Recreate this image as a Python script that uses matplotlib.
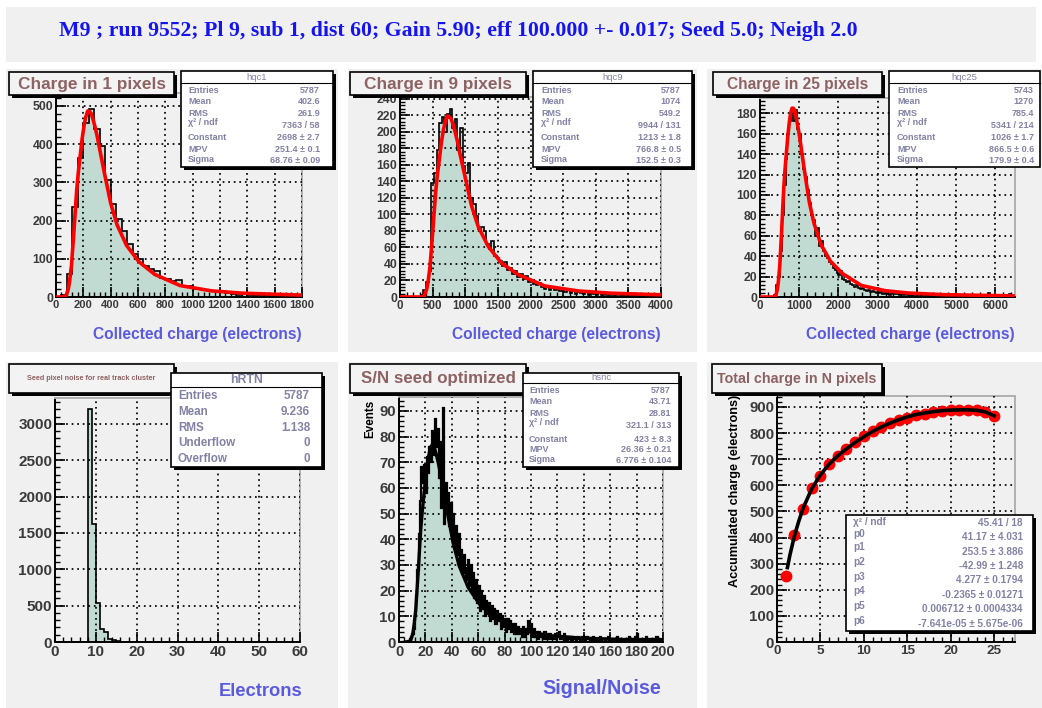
import matplotlib
matplotlib.use('Agg')
import matplotlib.pyplot as plt
from matplotlib.patches import Rectangle
from matplotlib.ticker import MultipleLocator, AutoMinorLocator
import numpy as np

# ---------------- data ----------------
header_text = "M9 ; run 9552; Pl 9, sub 1, dist 60; Gain 5.90; eff 100.000 +- 0.017; Seed 5.0; Neigh 2.0"

# Panel 1: charge in 1 pixel (bin width 40, 0..1800)
h1_range = (0, 1800)
h1_counts = [0, 4, 60, 235, 365, 455, 493, 440, 395, 305,
             244, 205, 172, 140, 112, 100, 80, 72, 68, 50,
             48, 42, 45, 28, 30, 22, 20, 18, 15, 14,
             12, 10, 9, 6, 8, 6, 5, 6, 4, 5,
             4, 3, 4, 3, 3]
f1_x = [0, 50, 72.6, 89.8, 100.1, 113.2, 122.1, 131.1, 141.4, 151.7, 164.1, 177.1, 190.9, 205.3,
        218.4, 232.1, 244.5, 257.6, 272.0, 285.8, 303.0, 320.2, 354.5, 400.6, 446.7, 516.1,
        607.6, 723.1, 907.4, 1138.4, 1365.3, 1702.2, 1800]
f1_y = [0, 0, 3, 20, 43, 82, 127, 171, 227, 281, 329, 370, 413, 449,
        472, 487, 486, 480, 464, 445, 418, 386, 324, 245, 189, 135,
        92, 59, 30, 16, 10, 6, 5]

# Panel 2: charge in 9 pixels (bin width 40, 0..4000)
h2_range = (0, 4000)
h2_counts = [0, 0, 0, 0, 0, 0, 0, 0, 3, 8,
             18, 32, 138, 150, 178, 210, 218, 200, 222, 228,
             205, 215, 178, 205, 158, 150, 162, 120, 113, 98,
             82, 85, 80, 64, 58, 68, 50, 47, 44, 38,
             42, 33, 35, 28, 32, 24, 28, 22, 25, 18,
             20, 16, 14, 17, 12, 10, 13, 9, 11, 8,
             10, 7, 8, 6, 9, 5, 7, 4, 6, 5,
             4, 6, 3, 5, 4, 3, 5, 2, 4, 3,
             4, 2, 3, 4, 2, 3, 2, 4, 2, 3,
             2, 3, 1, 3, 2, 2, 1, 3, 2, 2]
f2_x = [0, 330, 370, 408.4, 431.3, 460.3, 480.1, 499.9, 522.8, 545.7, 573.1, 602.1, 632.6, 664.6,
        693.6, 724.1, 751.6, 780.5, 812.6, 843.1, 881.2, 919.3, 995.5, 1097.7, 1199.9,
        1353.9, 1556.8, 1813.0, 2221.7, 2734, 3237, 3984]
f2_y = [0, 0, 1.2, 9, 19, 37, 57, 77, 102, 126, 148, 166, 186, 202,
        212, 219, 218, 216, 209, 200, 188, 173, 146, 110, 85,
        61, 41, 27, 13.3, 7.3, 4.6, 2.7]

# Panel 3: charge in 25 pixels (bin width 50, 0..6500)
h3_range = (0, 6500)
h3_counts = [0, 0, 0, 0, 0, 0, 0,
             2, 12, 20, 45, 80, 110, 135, 160, 172, 180,
             172, 183, 165, 160, 140, 125, 118, 105, 92, 80,
             75, 60, 68, 50, 55, 45, 40, 38, 34, 32,
             28, 26, 24, 22, 25, 18, 17, 15, 16, 13,
             12, 10, 12, 9, 8, 9, 7, 6, 7, 5,
             6, 5, 4,
             4, 5, 3, 4, 3, 5, 2, 4, 3, 3,
             3, 2, 4, 2, 3, 2, 3, 1, 2, 3,
             2, 2, 1, 3, 2, 1, 2, 2, 1, 2,
             1, 2, 1, 1, 2, 1, 0, 2, 1, 1,
             1, 0, 1, 2, 1, 0, 1, 1, 0, 1,
             0, 1, 1, 0, 1, 0, 4, 1, 0, 1,
             1, 0, 1, 0, 1, 2, 0, 3, 1, 0]
f3_x = [0, 360, 398.8, 443.7, 470.7, 504.9, 528.3, 551.7, 578.7, 605.6, 638.0, 672.2, 708.2, 746.0,
        780.2, 816.1, 848.5, 882.7, 920.5, 956.5, 1001.4, 1046.4, 1136.4, 1256.9, 1377.4,
        1559.1, 1798.4, 2100.6, 2582.7, 3187.2, 3780.9, 4662.4, 6450]
f3_y = [0, 0, 1, 7.6, 16, 31, 48, 65, 86, 107, 125, 141, 157, 171,
        180, 185, 185, 183, 176, 169, 159, 147, 123, 93, 72,
        51, 35, 23, 11.3, 6.2, 3.9, 2.3, 1.1]

# Panel 4: seed pixel noise (bin width 1, 0..60)
h4_range = (0, 60)
h4_counts = [0, 0, 0, 0, 0, 0, 0, 0, 3210, 1625,
             540, 183, 138, 46, 23, 10, 5, 3, 2, 1,
             0, 0, 0, 0, 0, 0, 0, 0, 0, 0,
             0, 0, 0, 0, 0, 0, 0, 0, 0, 0,
             0, 0, 0, 0, 0, 0, 0, 0, 0, 0,
             0, 0, 0, 0, 0, 0, 0, 0, 0, 0]

# Panel 5: S/N (bin width 1, 0..200)
h5_range = (0, 200)
h5_counts = [0, 0, 0, 0, 0, 0, 0, 0, 1, 2,
             3, 5, 10, 18, 28, 42, 55, 68, 62, 69,
             58, 72, 66, 76, 70, 82, 73, 87, 76, 83,
             64, 78, 52, 91, 46, 62, 50, 58, 45, 54,
             42, 50, 37, 45, 34, 42, 30, 36, 27, 34,
             29, 24, 32, 22, 30, 19, 27, 17, 24, 15,
             22, 12, 20, 13, 18, 10, 16, 11, 15, 8,
             14, 9, 13, 7, 12, 8, 11, 5, 10, 6,
             9, 4, 9, 5, 8, 4, 7, 3, 7, 3,
             6, 3, 5, 2, 6, 2, 5, 3, 8, 4,
             7, 2, 5, 2, 4, 1, 4, 2, 3, 1,
             4, 1, 3, 1, 3, 1, 2, 1, 3, 1,
             2, 4, 1, 2, 1, 3, 0, 2, 1, 2,
             0, 2, 1, 1, 0, 2, 1, 1, 0, 2,
             1, 0, 2, 1, 1, 0, 1, 2, 0, 1,
             1, 0, 2, 0, 1, 1, 0, 1, 2, 0,
             1, 0, 1, 1, 0, 2, 0, 1, 0, 1,
             1, 0, 1, 0, 2, 0, 1, 0, 1, 2,
             3, 1, 0, 1, 0, 1, 0, 2, 0, 1,
             0, 1, 0, 1, 0, 2, 1, 0, 1, 0]
f5_x = [5, 8.7, 10.4, 11.45, 12.74, 13.62, 14.5, 15.5, 16.5, 17.75, 19.04, 20.4, 21.82, 23.11,
        24.46, 25.68, 26.97, 28.39, 29.75, 31.44, 33.14, 36.52, 41.06, 45.6, 52.45, 61.46,
        72.84, 91.0, 113.8, 136.1, 169.3, 199]
f5_y = [0, 0.4, 3.1, 6.8, 12.9, 19.9, 26.9, 35.5, 44, 51.6, 58, 64.7, 70.4, 74,
        76.4, 76.1, 75.3, 72.8, 69.8, 65.6, 60.5, 50.8, 38.4, 29.6, 21.2, 14.4,
        9.3, 4.7, 2.5, 1.6, 0.93, 0.7]

# Panel 6: total charge in N pixels
n_pixels = list(range(1, 26))
acc_charge = [251, 411, 508, 590, 637, 680, 714, 740, 766, 788,
              808, 823, 839, 849, 859, 868, 874, 881, 885, 887,
              890, 890, 887, 881, 864]
f6_x = [1.2, 1.5, 2, 2.5, 3, 4, 5, 6, 7, 8, 9, 10, 11, 12, 13, 14, 15, 16, 17, 18, 19, 20,
        21, 22, 23, 24, 25]
f6_y = [285, 335, 405, 462, 512, 587, 640, 681, 713, 740, 764, 786, 806, 823, 838, 851, 862,
        871, 877, 882, 886, 888, 889, 889, 887, 881, 866]

# stats texts
stats1 = [("Entries", "5787"), ("Mean", "402.6"), ("RMS", "261.9"), ("χ² / ndf", "7363 / 58"),
          ("Constant", "2698 ± 2.7"), ("MPV", "251.4 ± 0.1"), ("Sigma", "68.76 ± 0.09")]
stats2 = [("Entries", "5787"), ("Mean", "1074"), ("RMS", "549.2"), ("χ² / ndf", "9944 / 131"),
          ("Constant", "1213 ± 1.8"), ("MPV", "766.8 ± 0.5"), ("Sigma", "152.5 ± 0.3")]
stats3 = [("Entries", "5743"), ("Mean", "1270"), ("RMS", "785.4"), ("χ² / ndf", "5341 / 214"),
          ("Constant", "1026 ± 1.7"), ("MPV", "866.5 ± 0.6"), ("Sigma", "179.9 ± 0.4")]
stats4 = [("Entries", "5787"), ("Mean", "9.236"), ("RMS", "1.138"), ("Underflow", "0"),
          ("Overflow", "0")]
stats5 = [("Entries", "5787"), ("Mean", "43.71"), ("RMS", "28.81"), ("χ² / ndf", "321.1 / 313"),
          ("Constant", "423 ± 8.3"), ("MPV", "26.36 ± 0.21"), ("Sigma", "6.776 ± 0.104")]
stats6 = [("χ² / ndf", "45.41 / 18"), ("p0", "41.17 ± 4.031"), ("p1", "253.5 ± 3.886"),
          ("p2", "-42.99 ± 1.248"), ("p3", "4.277 ± 0.1794"), ("p4", "-0.2365 ± 0.01271"),
          ("p5", "0.006712 ± 0.0004334"), ("p6", "-7.641e-05 ± 5.675e-06")]

# ---------------- style ----------------
W, H = 1042, 708
plt.rcParams['font.family'] = ['Liberation Sans', 'DejaVu Sans']
plt.rcParams['font.weight'] = 'bold'

PAD = '#f0f0f0'
FILL = '#c2dbd2'
TITLE_C = '#8e6262'
AXT_C = '#5a5ae0'
STAT_C = '#8282a6'
TICK_C = '#3a3a3a'

fig = plt.figure(figsize=(W / 100, H / 100), dpi=100)
fig.patch.set_facecolor('white')

bg = fig.add_axes([0, 0, 1, 1], zorder=0)
bg.set_xlim(0, W); bg.set_ylim(H, 0); bg.axis('off')
fg = fig.add_axes([0, 0, 1, 1], zorder=10)
fg.set_xlim(0, W); fg.set_ylim(H, 0); fg.axis('off')

# pads and header
for (x0, y0, x1, y1) in [(6, 7, 1036, 62), (6, 69, 338, 352), (348, 69, 697, 352),
                         (707, 69, 1042, 352), (6, 362, 338, 708), (348, 362, 697, 708),
                         (707, 362, 1042, 708)]:
    bg.add_patch(Rectangle((x0, y0), x1 - x0, y1 - y0, fc=PAD, ec='none'))
bg.text(59, 31, header_text, family=['Liberation Serif', 'DejaVu Serif'], fontsize=15.7,
        color='#1414f0', ha='left', va='center', fontweight='bold')


def px_axes(x0, y0, x1, y1):
    return fig.add_axes([x0 / W, 1 - y1 / H, (x1 - x0) / W, (y1 - y0) / H], zorder=1)


def style(ax, xlim, ylim, xmaj, ymaj, xfs, yfs, xminor=5, yminor=5):
    ax.set_facecolor(PAD)
    ax.set_xlim(*xlim); ax.set_ylim(*ylim)
    for s in ['left', 'bottom']:
        ax.spines[s].set_color('black'); ax.spines[s].set_linewidth(1.4)
    for s in ['top', 'right']:
        ax.spines[s].set_color('#b0b0b0'); ax.spines[s].set_linewidth(1.4)
    ax.xaxis.set_major_locator(MultipleLocator(xmaj))
    ax.yaxis.set_major_locator(MultipleLocator(ymaj))
    ax.xaxis.set_minor_locator(AutoMinorLocator(xminor))
    ax.yaxis.set_minor_locator(AutoMinorLocator(yminor))
    ax.tick_params(which='both', direction='in', top=False, right=False, colors='black')
    ax.tick_params(which='major', length=7, width=1.2)
    ax.tick_params(which='minor', length=3.5, width=1.0)
    ax.tick_params(axis='x', labelsize=xfs, labelcolor=TICK_C, pad=2)
    ax.tick_params(axis='y', labelsize=yfs, labelcolor=TICK_C, pad=2)
    ax.grid(True, which='major', color='black', linestyle=(0, (1, 2.2)), linewidth=1.25)
    ax.set_axisbelow(False)


def hist(ax, counts, rng, lw=1.2):
    edges = np.linspace(rng[0], rng[1], len(counts) + 1)
    ax.stairs(counts, edges, fill=True, facecolor=FILL, edgecolor='none', zorder=2)
    ax.stairs(counts, edges, color='black', linewidth=lw, zorder=3)


def title_box(x0, y0, x1, y1, text, fs):
    fg.add_patch(Rectangle((x0 + 3, y0 + 3), x1 - x0, y1 - y0, fc='black', ec='none'))
    fg.add_patch(Rectangle((x0, y0), x1 - x0, y1 - y0, fc='#f3f3f3', ec='black', lw=1.2))
    fg.text((x0 + x1) / 2, (y0 + y1) / 2 + 0.5, text, ha='center', va='center', fontsize=fs,
            color=TITLE_C)


def stats_box(x0, y0, x1, y1, header, sep_y, rows, ys, lx, rx, fs, hfs, shadow=True,
              hweight='normal'):
    if shadow:
        fg.add_patch(Rectangle((x0 + 3, y0 + 3), x1 - x0, y1 - y0, fc='black', ec='none'))
    fg.add_patch(Rectangle((x0, y0), x1 - x0, y1 - y0, fc='white', ec='black', lw=1.2))
    if header:
        fg.text((x0 + x1) / 2, (y0 + sep_y) / 2, header, ha='center', va='center',
                fontsize=hfs, color=STAT_C, fontweight=hweight)
        fg.plot([x0, x1], [sep_y, sep_y], color='black', lw=0.8)
    for (lab, val), (ly, vy) in zip(rows, ys):
        fg.text(lx, ly, lab, ha='left', va='center', fontsize=fs, color=STAT_C)
        fg.text(rx, vy, val, ha='right', va='center', fontsize=fs, color=STAT_C)


# ---------------- panel 1 ----------------
ax1 = px_axes(56, 93, 302, 297)
style(ax1, h1_range, (0, 534), 200, 100, 8.0, 8.8)
hist(ax1, h1_counts, h1_range)
ax1.plot(f1_x, f1_y, color='red', lw=2.6, zorder=4, solid_joinstyle='round')
fg.text(302, 335, "Collected charge (electrons)", ha='right', va='center', fontsize=11.2,
        color=AXT_C)

# ---------------- panel 2 ----------------
ax2 = px_axes(400, 97, 661, 297)
style(ax2, h2_range, (0, 242), 500, 20, 8.3, 8.8)
hist(ax2, h2_counts, h2_range)
ax2.plot(f2_x, f2_y, color='red', lw=2.6, zorder=4, solid_joinstyle='round')
fg.text(661, 335, "Collected charge (electrons)", ha='right', va='center', fontsize=11.2,
        color=AXT_C)

# ---------------- panel 3 ----------------
ax3 = px_axes(760, 98, 1015, 297)
style(ax3, h3_range, (0, 195), 1000, 20, 8.3, 8.8)
hist(ax3, h3_counts, h3_range)
ax3.plot(f3_x, f3_y, color='red', lw=2.6, zorder=4, solid_joinstyle='round')
fg.text(1015, 335, "Collected charge (electrons)", ha='right', va='center', fontsize=11.2,
        color=AXT_C)

# ---------------- panel 4 ----------------
ax4 = px_axes(55, 398, 300, 642)
style(ax4, h4_range, (0, 3355), 10, 500, 11, 11)
hist(ax4, h4_counts, h4_range)
fg.text(302, 691, "Electrons", ha='right', va='center', fontsize=13.2, color=AXT_C)

# ---------------- panel 5 ----------------
ax5 = px_axes(399, 397, 663, 642)
style(ax5, h5_range, (0, 95.4), 20, 10, 10.5, 10.8)
hist(ax5, h5_counts, h5_range, lw=1.6)
ax5.plot(f5_x, f5_y, color='black', lw=2.4, zorder=4, solid_joinstyle='round')
fg.text(661, 689, "Signal/Noise", ha='right', va='center', fontsize=14.2, color=AXT_C)
fg.text(370, 400, "Events", ha='center', va='top', rotation=90, fontsize=8.4, color='black')

# ---------------- panel 6 ----------------
ax6 = px_axes(777, 396, 1015, 642)
style(ax6, (0, 27.4), (0, 942), 5, 100, 9.7, 10.8)
ax6.plot(n_pixels, acc_charge, 'o', color='red', markersize=7.5, zorder=3)
ax6.plot(f6_x, f6_y, color='black', lw=2.6, zorder=4, solid_joinstyle='round')
fg.text(735, 395, "Accumulated charge (electrons)", ha='center', va='top', rotation=90,
        fontsize=9.1, color='black')

# ---------------- title boxes ----------------
title_box(9, 72, 174, 95, "Charge in 1 pixels", 12.4)
title_box(350, 72, 526, 95, "Charge in 9 pixels", 12.4)
title_box(713, 72, 882, 95, "Charge in 25 pixels", 11.2)
title_box(9, 364, 174, 393, "Seed pixel noise for real track cluster", 5.2)
title_box(350, 364, 526, 393, "S/N seed optimized", 12.2)
title_box(712, 364, 882, 393, "Total charge in N pixels", 10.3)

# ---------------- stats boxes ----------------
ys7 = [(90.7, 90.7), (101.7, 101.7), (113, 114), (122.7, 125), (137.7, 137.7), (150, 150),
       (160, 160.7)]
stats_box(181, 71, 333, 167, "hqc1", 83, stats1, ys7, 188, 320, 6.5, 6.8)
stats_box(533, 71, 692, 167, "hqc9", 83, stats2, ys7, 541, 681, 6.5, 6.8)
stats_box(889, 71, 1040, 167, "hqc25", 83, stats3, ys7, 897, 1034, 6.5, 6.8, shadow=False)
stats_box(171, 373, 322, 467, "hRTN", 387, stats4,
          [(396, 396), (412, 412), (428, 428), (443, 443), (459, 459)], 178, 310, 8.4, 8.8,
          hweight='bold')
stats_box(523, 373, 679, 467, "hsnc", 383, stats5,
          [(390.7, 390.7), (401.7, 401.7), (413, 414), (422.7, 425), (439, 439), (450, 450),
           (459, 460.5)], 529, 671, 6.5, 6.8)
stats_box(846, 515, 1033, 631, None, None, stats6,
          [(522, 523), (534, 537), (547, 552), (562, 566), (577, 580), (591, 595), (606, 609),
           (621, 624)], 853, 1023, 7.2, 7.2)

fig.savefig('out.png', dpi=100)
